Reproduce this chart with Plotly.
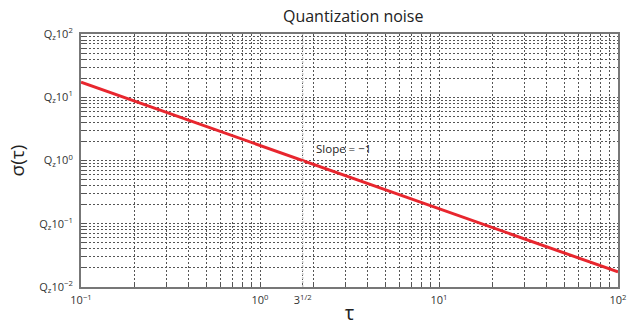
import math
import plotly.graph_objects as go

# ---- data ----
tau = [0.1, 100.0]                 # averaging time (x)
sigma = [17.3, 0.0173]             # Allan deviation in units of Q_z (y)

x_decades = [0.1, 1, 10, 100]
x_decade_labels = ["10<sup>\u22121</sup>", "10<sup>0</sup>", "10<sup>1</sup>", "10<sup>2</sup>"]
y_decades = [0.01, 0.1, 1, 10, 100]
y_decade_labels = ["Q<sub>z</sub>10<sup>\u22122</sup>", "Q<sub>z</sub>10<sup>\u22121</sup>",
                   "Q<sub>z</sub>10<sup>0</sup>", "Q<sub>z</sub>10<sup>1</sup>",
                   "Q<sub>z</sub>10<sup>2</sup>"]
minor_mult = [2, 3, 4, 5, 6, 7, 8, 9]
ref_tau = 3 ** 0.5
ref_label = "3<sup>1/2</sup>"
slope_text = "Slope = \u22121"
slope_pos = (2.0, 1.57)

# ---- build tick lists (major + minor) ----
def ticks(decades, labels):
    vals, texts = [], []
    for i, d in enumerate(decades):
        vals.append(d); texts.append(labels[i])
        if i < len(decades) - 1:
            for m in minor_mult:
                vals.append(d * m); texts.append("")
    return vals, texts

xv, xt = ticks(x_decades, x_decade_labels)
yv, yt = ticks(y_decades, y_decade_labels)
xv.append(ref_tau); xt.append(ref_label)

FONT = "Open Sans"
fig = go.Figure()
fig.add_trace(go.Scatter(x=tau, y=sigma, mode="lines",
                         line=dict(color="#e8262e", width=3), showlegend=False))

fig.add_shape(type="line", x0=ref_tau, x1=ref_tau, y0=0, y1=1, xref="x", yref="paper",
              line=dict(color="#c8c8c8", width=1.5, dash="2px,2px"), layer="above")

fig.add_annotation(x=math.log10(slope_pos[0]), y=math.log10(slope_pos[1]),
                   text=slope_text, showarrow=False, xanchor="left", yanchor="middle",
                   font=dict(family=FONT, size=11.5, color="#222"))

axis_common = dict(type="log", showgrid=True, gridcolor="#555", griddash="2px,2px", gridwidth=1,
                   ticks="inside", ticklen=4, tickcolor="#555", showline=True, linecolor="#777",
                   linewidth=2, mirror=True, zeroline=False, ticklabeloverflow="allow",
                   tickfont=dict(family=FONT, size=11, color="#333"))

fig.update_layout(
    width=633, height=327,
    margin=dict(l=81, r=6, t=34, b=39),
    paper_bgcolor="white", plot_bgcolor="white",
    title=dict(text="Quantization noise", x=0.558, xanchor="center", y=0.95, yanchor="middle",
               font=dict(family=FONT, size=16, color="#222")),
    xaxis=dict(axis_common, range=[-1, 2], tickmode="array", tickvals=xv, ticktext=xt,
               tickangle=0, ticklabelstandoff=2,
               title=dict(text="\u03c4", font=dict(family=FONT, size=20, color="#222"), standoff=0)),
    yaxis=dict(axis_common, range=[-2, 2], tickmode="array", tickvals=yv, ticktext=yt,
               ticklabelstandoff=4,
               title=dict(text="\u03c3(\u03c4)", font=dict(family=FONT, size=19, color="#222"), standoff=10)),
)

fig.write_html("out.html")
